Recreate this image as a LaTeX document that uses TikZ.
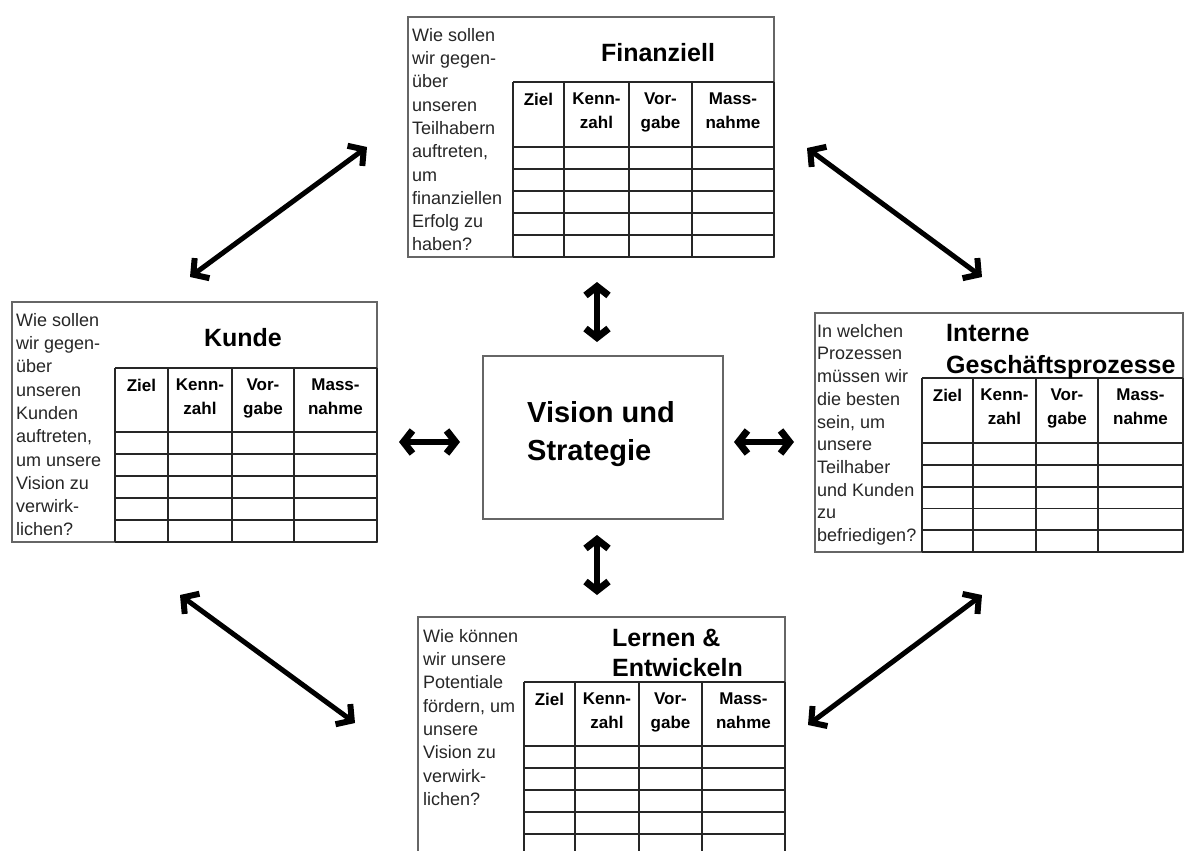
\documentclass[tikz,border=0pt]{standalone}
\usepackage{fontspec}
\setmainfont{Liberation Sans}
\usetikzlibrary{arrows.meta}

\tikzset{
  cardframe/.style={draw=black!60, line width=1.8pt, inner sep=0pt, outer sep=0pt, anchor=north west},
  tabline/.style={draw=black!85, line width=1.8pt},
  qtext/.style={anchor=north west, inner sep=0pt, align=left, text=black!85,
    font=\fontsize{18}{23.3}\selectfont},
  cardtitle/.style={inner sep=0pt, align=left, font=\fontsize{25}{32}\selectfont\bfseries},
  hdr/.style={anchor=north, inner sep=0pt, align=center, font=\fontsize{17}{24}\selectfont\bfseries},
  bigtip/.tip={Straight Barb[length=11pt,width=25pt,line width=6pt]},
  smalltip/.tip={Straight Barb[length=9pt,width=23pt,line width=7pt]},
  bigarrow/.style={bigtip-bigtip, line width=5pt},
  smallarrow/.style={smalltip-smalltip, line width=6pt},
}

% Target table of a perspective card:
% #1 name prefix, #2 left, #3 top, #4-#6 inner column lines, #7 right, #8 header bottom, #9 bottom
\newcommand\bsctable[9]{%
  \draw[tabline] (#2,#3) -- (#7,#3);
  \draw[tabline] (#2,#8) -- (#7,#8);
  \foreach \k in {1,...,4}
    \draw[tabline] (#2,{#8+\k*(#9-#8)/5}) -- (#7,{#8+\k*(#9-#8)/5});
  \draw[tabline] (#2,#3) -- (#2,#9) (#4,#3) -- (#4,#9) (#5,#3) -- (#5,#9)
                 (#6,#3) -- (#6,#9) (#7,#3) -- (#7,#9);
  \draw[tabline] (#2,#9) -- (#7,#9);
  \node[hdr] (#1-ziel) at ({(#2+#4)/2},{#3+11}) {Ziel};
  \node[hdr] (#1-kenn) at ({(#4+#5)/2},{#3+11}) {Kenn-\\zahl};
  \node[hdr] (#1-vor)  at ({(#5+#6)/2},{#3+11}) {Vor-\\gabe};
  \node[hdr] (#1-mass) at ({(#6+#7)/2},{#3+11}) {Mass-\\nahme};
}

\begin{document}
\begin{tikzpicture}[x=1pt,y=-1pt]
  \clip (0,0) rectangle (1184,851);
  \fill[white] (0,0) rectangle (1184,851);

  % ---------- Financial perspective ----------
  \node[cardframe, minimum width=366pt, minimum height=240pt] (fin) at (408,17) {};
  \bsctable{fin}{513}{82}{564}{629}{692}{774}{147}{257}
  \node[cardtitle] (fintitle) at (658,53) {Finanziell};
  \node[qtext] (finq) at (412,28) {Wie sollen\\wir gegen-\\über\\unseren\\Teilhabern\\auftreten,\\um\\finanziellen\\Erfolg zu\\haben?};

  % ---------- Customer perspective ----------
  \node[cardframe, minimum width=365pt, minimum height=240pt] (kun) at (12,302) {};
  \bsctable{kun}{115}{368}{168}{232}{294}{377}{432}{542}
  \node[cardtitle] (kuntitle) at (243,338) {Kunde};
  \node[qtext] (kunq) at (16,313) {Wie sollen\\wir gegen-\\über\\unseren\\Kunden\\auftreten,\\um unsere\\Vision zu\\verwirk-\\lichen?};

  % ---------- Internal processes perspective ----------
  \node[cardframe, minimum width=368pt, minimum height=239pt] (int) at (815,313) {};
  \bsctable{int}{922}{378}{973}{1036}{1098}{1183}{443}{552}
  \node[cardtitle, anchor=north west] (inttitle) at (946,324) {Interne\\Geschäftsprozesse};
  \node[qtext, font=\fontsize{18}{22.7}\selectfont] (intq) at (817,324) {In welchen\\Prozessen\\müssen wir\\die besten\\sein, um\\unsere\\Teilhaber\\und Kunden\\zu\\befriedigen?};

  % ---------- Learning perspective ----------
  \node[cardframe, minimum width=367pt, minimum height=239pt] (ler) at (418,617) {};
  \bsctable{ler}{524}{682}{575}{639}{702}{785}{746}{856}
  \node[cardtitle, anchor=north west, font=\fontsize{25}{30}\selectfont\bfseries] (lertitle) at (612,629) {Lernen \&\\Entwickeln};
  \node[qtext] (lerq) at (423,629) {Wie können\\wir unsere\\Potentiale\\fördern, um\\unsere\\Vision zu\\verwirk-\\lichen?};

  % ---------- Vision and strategy ----------
  \node[draw=black!60, line width=1.6pt, inner sep=0pt, anchor=north west,
        minimum width=240pt, minimum height=163pt] (vis) at (482,355) {};
  \node[anchor=north west, inner sep=0pt, align=left,
        font=\fontsize{29}{38}\selectfont\bfseries] (vistext) at (527,401.5) {Vision und\\Strategie};

  % ---------- Arrow end points ----------
  \coordinate (tlA) at (190,277);  \coordinate (tlB) at (367,147);
  \coordinate (trA) at (807,148);  \coordinate (trB) at (982,277);
  \coordinate (blA) at (180,595);  \coordinate (blB) at (355,723);
  \coordinate (brA) at (982,595);  \coordinate (brB) at (808,725);
  \coordinate (vtA) at (597,282);  \coordinate (vtB) at (597,342);
  \coordinate (vbA) at (597,535);  \coordinate (vbB) at (597,595);
  \coordinate (hlA) at (399,442);  \coordinate (hlB) at (460,442);
  \coordinate (hrA) at (734,442);  \coordinate (hrB) at (794,442);

  \draw[bigarrow] (tlA) -- (tlB);
  \draw[bigarrow] (trA) -- (trB);
  \draw[bigarrow] (blA) -- (blB);
  \draw[bigarrow] (brA) -- (brB);
  \draw[smallarrow] (vtA) -- (vtB);
  \draw[smallarrow] (vbA) -- (vbB);
  \draw[smallarrow] (hlA) -- (hlB);
  \draw[smallarrow] (hrA) -- (hrB);
\end{tikzpicture}
\end{document}
